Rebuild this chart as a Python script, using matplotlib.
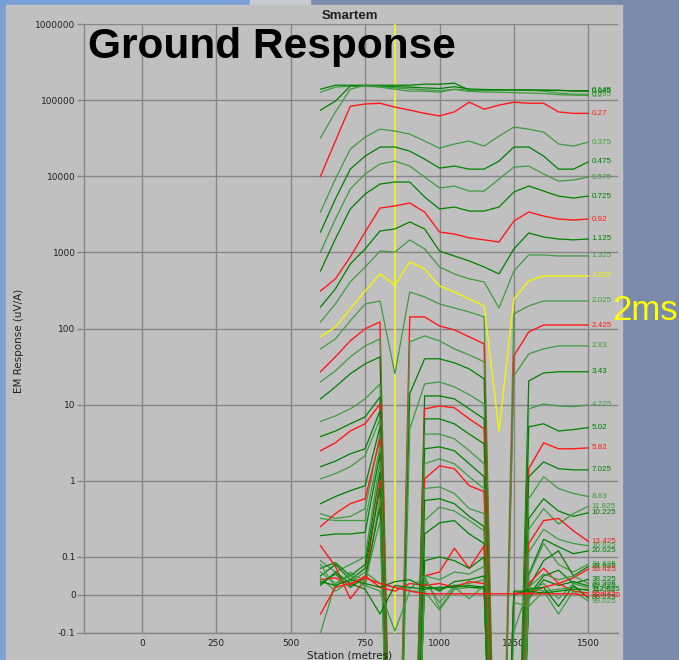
import matplotlib

matplotlib.use("Agg")
import matplotlib.pyplot as plt
from matplotlib.patches import Rectangle
from matplotlib.ticker import NullLocator

# station positions (metres) shared by every channel
stations = [600, 650, 700, 750, 800, 850, 900, 950, 1000, 1050,
            1100, 1150, 1200, 1250, 1300, 1350, 1400, 1450, 1500]

# EM response (uV/A) per channel
ch_0_045 = [1.39e5, 1.57e5, 1.57e5, 1.57e5, 1.57e5, 1.57e5, 1.57e5, 1.62e5, 1.62e5, 1.67e5,
            1.35e5, 1.35e5, 1.35e5, 1.35e5, 1.35e5, 1.35e5, 1.35e5, 1.31e5, 1.31e5]
ch_0_095 = [1.27e5, 1.48e5, 1.53e5, 1.53e5, 1.48e5, 1.39e5, 1.31e5, 1.31e5, 1.27e5, 1.39e5,
            1.35e5, 1.35e5, 1.35e5, 1.35e5, 1.35e5, 1.31e5, 1.24e5, 1.2e5, 1.2e5]
ch_0_145 = [7.4e4, 9.7e4, 1.53e5, 1.55e5, 1.52e5, 1.5e5, 1.48e5, 1.45e5, 1.42e5, 1.5e5,
            1.4e5, 1.38e5, 1.37e5, 1.36e5, 1.36e5, 1.35e5, 1.34e5, 1.33e5, 1.33e5]
ch_0_2 = [3.2e4, 7.0e4, 1.39e5, 1.57e5, 1.5e5, 1.45e5, 1.4e5, 1.37e5, 1.33e5, 1.38e5,
          1.3e5, 1.28e5, 1.27e5, 1.25e5, 1.24e5, 1.22e5, 1.18e5, 1.16e5, 1.15e5]
ch_0_27 = [1.0e4, 2.9e4, 8.3e4, 8.9e4, 9.1e4, 8.1e4, 7.4e4, 6.7e4, 6.2e4, 7.0e4,
           9.4e4, 7.6e4, 8.6e4, 9.4e4, 9.1e4, 9.1e4, 7.0e4, 6.7e4, 6.7e4]
ch_0_375 = [3390, 9190, 22700, 32700, 41600, 39200, 35800, 29000, 23400, 26500,
            29000, 24900, 33700, 44200, 41600, 38000, 26500, 24900, 28100]
ch_0_475 = [1850, 5020, 12400, 18400, 24200, 24200, 21400, 16800, 12800, 13600,
            12400, 12400, 15800, 24200, 24200, 18400, 12400, 12400, 15400]
ch_0_575 = [1010, 2740, 6790, 10700, 14500, 15800, 13600, 9770, 7000, 7440,
            6390, 6390, 9190, 13200, 13600, 10700, 8650, 8910, 9770]
ch_0_725 = [570, 1500, 3720, 5840, 7900, 8400, 8400, 5330, 3720, 3940,
            3490, 3490, 3940, 6200, 7440, 6390, 5490, 5170, 5490]
ch_0_92 = [311, 448, 870, 1850, 3830, 4070, 4450, 3390, 1850, 1740,
           1550, 1460, 1370, 2580, 3390, 3000, 2740, 2660, 2740]
ch_1_125 = [192, 331, 704, 1110, 1910, 2030, 2510, 2030, 1040, 897,
            771, 643, 521, 1110, 1800, 1590, 1500, 1460, 1500]
ch_1_325 = [122, 210, 409, 643, 1040, 1010, 1460, 1110, 643, 521,
            448, 409, 186, 570, 925, 925, 897, 897, 897]
ch_1_625 = [77.6, 105, 181, 311, 521, 373, 748, 605, 362, 302,
            244, 198, 4.5, 244, 422, 490, 490, 490, 490]
ch_2_025 = [54, 73, 126, 210, 230, 25.4, 302, 260, 210, 186,
            165, 142, -5000, 156, 198, 230, 230, 230, 230]
ch_2_425 = [27, 42.4, 68.8, 99, 122, -8000, 142, 142, 108, 95.9,
            77.6, 62.8, -6000, 43.7, 90.2, 111, 111, 111, 111]
ch_2_83 = [19.9, 27.8, 42.4, 59.1, 73, -9000, 66.7, 80, 68.8, 54,
           45, 36.5, -7000, 23.9, 46.4, 54, 59.1, 59.1, 59.1]
ch_3_43 = [11.9, 17.1, 25.4, 34.3, 42.4, -1e4, 13.9, 40, 40, 35.4,
           29.5, 21.8, -8000, -2000, 20.5, 26.1, 27, 27, 27]
ch_4_225 = [6.0, 7.1, 8.8, 11.9, 18.7, -1e4, 4.8, 18.7, 19.9, 17.1,
            13.5, 10.2, -9000, -3000, 8.8, 10.2, 9.6, 9.4, 9.9]
ch_5_02 = [3.8, 4.5, 5.6, 6.9, 12.6, -1.2e4, -6000, 13, 13, 11.9,
           8.8, 6.5, -1e4, -4000, 5.1, 5.6, 4.5, 4.7, 5.0]
ch_5_82 = [2.48, 3.15, 4.5, 5.6, 10.2, -1.2e4, -7000, 8.8, 9.6, 9.1,
           6.5, 4.8, -1e4, -5000, 1.44, 3.15, 2.63, 2.63, 2.7]
ch_7_025 = [1.53, 1.81, 2.26, 2.63, 8.3, -1.3e4, -8000, 6.5, 6.5, 5.6,
            4.1, 3.06, -1.1e4, -5000, 1.13, 1.77, 1.44, 1.39, 1.39]
ch_8_63 = [1.06, 1.24, 1.53, 2.13, 6.5, -1.3e4, -8000, 4.1, 4.1, 3.56,
           2.48, 1.67, -1.1e4, -6000, 0.58, 1.13, 0.79, 0.68, 0.62]
ch_10_225 = [0.5, 0.62, 0.74, 0.86, 5.1, -1.4e4, -9000, 2.63, 2.79, 2.48,
             1.67, 1.13, -1.2e4, -6000, 0.32, 0.58, 0.40, 0.34, 0.38]
ch_11_825 = [0.37, 0.32, 0.34, 0.43, 4.1, -1.4e4, -9000, 1.67, 1.94, 1.67,
             1.13, 0.79, -1.2e4, -7000, 0.23, 0.43, 0.27, 0.37, 0.46]
ch_13_425 = [0.25, 0.37, 0.5, 0.58, 3.56, -1.5e4, -1e4, 1.06, 1.57, 1.44,
             0.86, 0.72, -1.3e4, -7000, 0.15, 0.30, 0.32, 0.22, 0.16]
ch_16_625 = [0.32, 0.30, 0.30, 0.30, 2.79, -1.5e4, -1e4, 0.79, 0.83, 0.68,
             0.43, 0.37, -1.3e4, -8000, 0.115, 0.23, 0.17, 0.15, 0.14]
ch_20_625 = [0.19, 0.2, 0.2, 0.21, 2.26, -1.5e4, -1e4, 0.55, 0.58, 0.5,
             0.34, 0.25, -1.3e4, -8000, 0.054, 0.17, 0.136, 0.11, 0.12]
ch_24_625 = [0.09, 0.06, 0.08, 0.1, 1.8, -1.5e4, -1e4, 0.3, 0.45, 0.4,
             0.3, 0.22, -1.3e4, -8000, 0.05, 0.15, 0.08, 0.06, 0.081]
ch_28_625 = [0.07, 0.085, 0.05, 0.08, 1.3, -1.5e4, -1e4, 0.2, 0.28, 0.3,
             0.2, 0.15, -1.4e4, -8000, 0.02, 0.09, 0.12, 0.05, 0.075]
ch_33_425 = [0.14, 0.075, -0.01, 0.04, 1.0, -1.6e4, -1.1e4, 0.05, 0.06, 0.13,
             0.07, 0.14, -1.4e4, -9000, 0.03, 0.07, 0.03, 0.045, 0.068]
ch_38_225 = [0.05, 0.08, 0.04, 0.07, 0.8, -1.6e4, -1.1e4, 0.09, 0.1, 0.09,
             0.07, 0.1, -1.5e4, -9000, 0.0, 0.05, 0.065, 0.03, 0.041]
ch_43_025 = [0.06, 0.03, 0.055, 0.02, 0.6, -1.6e4, -1.2e4, 0.05, 0.04, 0.06,
             0.055, 0.075, -1.5e4, -1e4, 0.02, 0.055, 0.04, 0.05, 0.03]
ch_49_425 = [0.03, 0.055, 0.02, 0.045, 0.45, -1.7e4, -1.2e4, 0.03, 0.01, 0.035,
             0.04, 0.05, -1.5e4, -1e4, -0.01, 0.04, 0.025, 0.035, 0.024]
ch_57_425 = [0.08, 0.02, 0.06, 0.035, 0.3, -1.7e4, -1.2e4, 0.04, -0.02, 0.025,
             0.03, 0.04, -1.6e4, -1e4, 0.01, 0.03, -0.01, 0.03, 0.019]
ch_65_425 = [0.04, 0.045, 0.025, 0.05, 0.02, 0.01, 0.03, 0.025, 0.03, 0.02,
             0.035, 0.03, -1.6e4, 0.005, 0.005, 0.02, 0.03, 0.01, 0.005]
ch_75_025 = [0.045, 0.01, 0.035, 0.06, 0.03, 0.02, 0.015, 0.05, -0.035, 0.02,
             -0.01, 0.025, -1.6e4, -0.095, 0.02, 0.01, 0.015, 0.02, 0.011]
ch_86_225 = [0.025, 0.06, 0.03, 0.015, -0.05, 0.025, 0.02, 0.015, 0.02, 0.02,
             0.025, 0.02, -1.7e4, 0.0, 0.015, 0.02, -0.03, 0.025, -0.008]
ch_99_025 = [-0.1, 0.03, 0.05, 0.025, 0.01, -0.095, 0.01, 0.01, -0.04, 0.015,
             0.02, 0.015, -1.7e4, -0.02, -0.03, 0.01, -0.05, 0.01, -0.016]
ch_112_625 = [0.035, 0.025, 0.04, 0.03, 0.02, 0.035, 0.04, 0.02, 0.015, 0.025,
              0.02, 0.02, -1.7e4, 0.01, 0.01, 0.005, 0.01, 0.015, 0.014]
ch_128_625 = [-0.05, 0.02, 0.03, 0.045, 0.03, 0.02, 0.01, 0.003, 0.003, 0.003,
              0.003, 0.003, 0.003, 0.003, 0.003, 0.003, 0.003, 0.003, -0.002]

channel_labels = ["0.045", "0.095", "0.145", "0.2", "0.27", "0.375", "0.475", "0.575",
                  "0.725", "0.92", "1.125", "1.325", "1.625", "2.025", "2.425", "2.83",
                  "3.43", "4.225", "5.02", "5.82", "7.025", "8.63", "10.225", "11.825",
                  "13.425", "16.625", "20.625", "24.625", "28.625", "33.425", "38.225",
                  "43.025", "49.425", "57.425", "65.425", "75.025", "86.225", "99.025",
                  "112.625", "128.625"]
channels = [ch_0_045, ch_0_095, ch_0_145, ch_0_2, ch_0_27, ch_0_375, ch_0_475, ch_0_575,
            ch_0_725, ch_0_92, ch_1_125, ch_1_325, ch_1_625, ch_2_025, ch_2_425, ch_2_83,
            ch_3_43, ch_4_225, ch_5_02, ch_5_82, ch_7_025, ch_8_63, ch_10_225, ch_11_825,
            ch_13_425, ch_16_625, ch_20_625, ch_24_625, ch_28_625, ch_33_425, ch_38_225,
            ch_43_025, ch_49_425, ch_57_425, ch_65_425, ch_75_025, ch_86_225, ch_99_025,
            ch_112_625, ch_128_625]

x_ticks = [0, 250, 500, 750, 1000, 1250, 1500]
y_ticks = [1e6, 1e5, 1e4, 1e3, 100, 10, 1, 0.1, 0, -0.1]
y_tick_labels = ["1000000", "100000", "10000", "1000", "100", "10", "1", "0.1", "0", "-0.1"]
marker_station = 850

W, H = 679, 660
fig = plt.figure(figsize=(W / 100, H / 100), dpi=100, facecolor="#7a8bab")

# slide background + grey chart panel (behind the axes)
for (x0, y0, w, h, c) in [(0, 0, 8, H, "#7ba0d8"),
                          (0, H - 6, 250, 6, "#7ba0d8"),
                          (250, H - 6, 60, 6, "#c8ccd2"),
                          (6, 0, 616, 655, "#c0c0c0")]:
    fig.patches.append(Rectangle((x0 / W, y0 / H), w / W, h / H,
                                 transform=fig.transFigure, color=c, zorder=-5))

ax = fig.add_axes([84 / W, 27 / H, 534 / W, 609 / H])
ax.set_facecolor("#c0c0c0")
ax.set_yscale("symlog", linthresh=0.1, linscale=0.45)
ax.set_xlim(-195, 1600)
ax.set_ylim(-0.1, 1e6)

ax.set_axisbelow(True)
ax.grid(True, color="#878787", lw=1)
for side in ("top", "right"):
    ax.spines[side].set_visible(False)
for side in ("left", "bottom"):
    ax.spines[side].set_color("#878787")
    ax.spines[side].set_linewidth(1)

ax.set_xticks(x_ticks)
ax.set_yticks(y_ticks)
ax.set_yticklabels(y_tick_labels)
ax.yaxis.set_minor_locator(NullLocator())
ax.tick_params(axis="x", length=0, pad=4, labelsize=6.5, labelcolor="#202020")
ax.tick_params(axis="y", length=5, width=1, color="#878787", pad=1,
               labelsize=6.5, labelcolor="#202020")

ax.axvline(marker_station, color="#f2f22a", lw=1.3, zorder=2.8)

greens = ["#008000", "#3f9b3f"]
for i, (lab, vals) in enumerate(zip(channel_labels, channels)):
    if lab == "1.625":
        col, lw = "#f4f400", 1.0
    elif i % 5 == 4:
        col, lw = "#ff1a1a", 1.0
    else:
        col, lw = greens[i % 2], 0.9
    ax.plot(stations, vals, color=col, lw=lw, clip_on=False, zorder=3)
    ax.text(1512, vals[-1], lab, color=col, fontsize=5.8, va="center", ha="left",
            family="Liberation Sans", clip_on=False, zorder=4)

ax.set_ylabel("EM Response (uV/A)", fontsize=7.5, color="#202020")
ax.yaxis.set_label_coords(-60 / 534, 0.48)
fig.text(350 / W, 1 - 651 / H, "Station (metres)", fontsize=7.5, color="#202020",
         ha="center", va="top")

fig.text(350 / W, 1 - 19 / H, "Smartem", fontsize=9.5, fontweight="bold",
         family="Liberation Sans", color="#202020", ha="center", va="baseline")
fig.text(88 / W, 1 - 58 / H, "Ground Response", fontsize=30.5, fontweight="bold",
         family="Liberation Sans", color="black", ha="left", va="baseline", zorder=10)
fig.text(612 / W, 1 - 320 / H, "2ms", fontsize=25, family="Liberation Sans",
         color="#ffff00", ha="left", va="baseline", zorder=10)

fig.savefig("out.png", dpi=100, facecolor=fig.get_facecolor())
